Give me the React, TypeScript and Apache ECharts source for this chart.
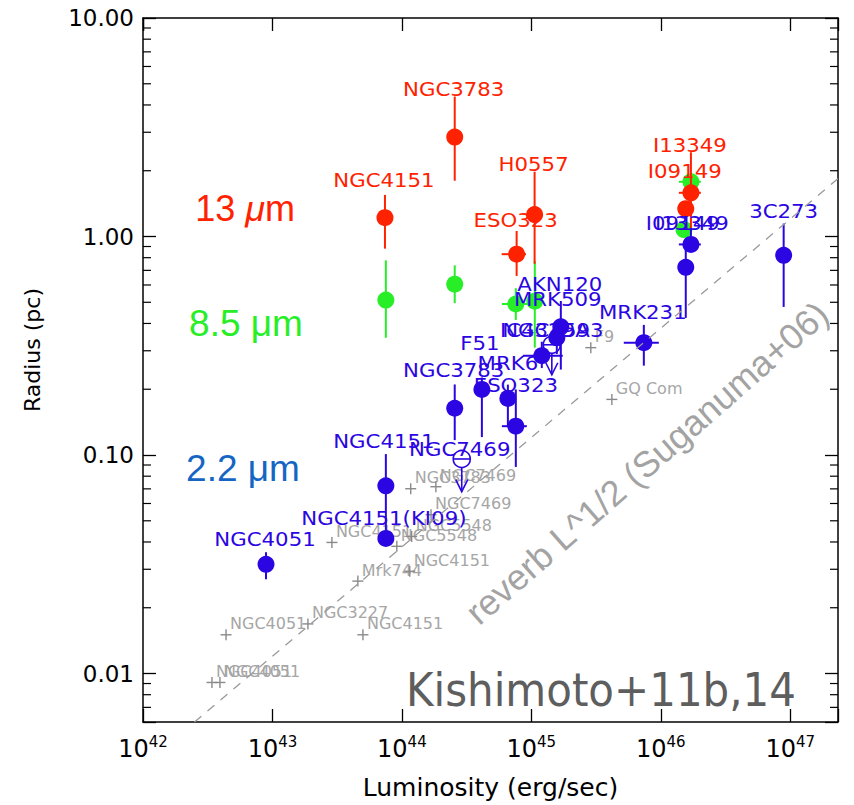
import React, { useEffect, useRef } from 'react';
import * as echarts from 'echarts';

// ---------- axis ranges ----------
const X_MIN = 1e42;
const X_MAX = 2.34e47;
const Y_MIN = 0.006;
const Y_MAX = 10;
const minorTickValues = [
  0.007, 0.008, 0.009,
  0.02, 0.03, 0.04, 0.05, 0.06, 0.07, 0.08, 0.09,
  0.2, 0.3, 0.4, 0.5, 0.6, 0.7, 0.8, 0.9,
  2, 3, 4, 5, 6, 7, 8, 9,
];

// ---------- 13 um (red) ----------
const redNames = ['NGC4151', 'NGC3783', 'H0557', 'ESO323', 'I13349', 'I09149'];
const redL = [7.4e43, 2.56e44, 1.06e45, 7.7e44, 1.71e46, 1.56e46];
const redR = [1.22, 2.85, 1.26, 0.83, 1.585, 1.34];
const redRlo = [0.88, 1.8, 0.75, 0.66, 1.09, 0];
const redRhi = [1.55, 4.37, 1.98, 1.06, 2.43, 0];
const redLlo = [0, 0, 0, 5.9e44, 1.38e46, 0];
const redLhi = [0, 0, 0, 9.1e44, 2.04e46, 0];
const redLabelOffsets = [[-1, -37], [-1, -48], [-1, -50], [-1, -34], [-1, -47], [-1, -37]];

// ---------- 8.5 um (green) ----------
const greenL = [7.52e43, 2.56e44, 7.59e44, 1.064e45, 1.71e46, 1.51e46];
const greenR = [0.512, 0.605, 0.491, 0.506, 1.78, 1.076];
const greenRlo = [0.344, 0.496, 0.415, 0.31, 0, 0];
const greenRhi = [0.778, 0.738, 0.58, 0.77, 0, 0];
const greenLlo = [0, 0, 5.92e44, 0, 1.38e46, 0];
const greenLhi = [0, 0, 9.72e44, 0, 2.04e46, 0];

// ---------- 2.2 um (blue) ----------
const blueNames = ['NGC4051', 'NGC4151', 'NGC4151(KI09)', 'NGC3783', 'F51', 'MRK6', 'ESO323',
  'IC4329A', 'MRK509', 'AKN120', 'MRK231', 'I09149', 'I13349', '3C273'];
const blueL = [8.92e42, 7.52e43, 7.52e43, 2.56e44, 4.15e44, 6.59e44, 7.59e44,
  1.205e45, 1.574e45, 1.69e45, 7.4e45, 1.56e46, 1.71e46, 8.9e46];
const blueR = [0.0316, 0.0723, 0.0415, 0.1637, 0.1995, 0.1816, 0.1355,
  0.285, 0.344, 0.386, 0.3265, 0.723, 0.92, 0.82];
const blueRlo = [0.027, 0.045, 0, 0.117, 0.1208, 0.134, 0.0882,
  0.25, 0.29, 0.246, 0.2565, 0.424, 0, 0.476];
const blueRhi = [0.0359, 0.101, 0, 0.2104, 0.2264, 0.21, 0.1995,
  0.33, 0.4, 0.507, 0.394, 0.97, 1.09, 1.146];
const blueLlo = [0, 0, 0, 0, 0, 0, 5.92e44, 8.59e44, 0, 0, 5.18e45, 0, 1.38e46, 0];
const blueLhi = [0, 0, 0, 0, 0, 0, 9.23e44, 1.75e45, 0, 0, 9.66e45, 0, 2.04e46, 0];
const blueLabelOffsets = [[-1, -25], [-2, -44], [-2, -20], [-1, -38], [-2, -46], [0, -35], [0, -41],
  [3, -25], [1, -38], [-1, -42], [-1, -30], [-3, -44], [1, -21], [0, -44]];

// ---------- 2.2 um upper limits ----------
const limitNames = ['NGC7469', 'NGC4593'];
const limitL = [2.9e44, 1.44e45];
const limitR = [0.0959, 0.3195];
const limitRend = [0.068, 0.233];
const limitLabelOffsets = [[-2, -10], [1, -14]];

// ---------- reverberation radii (gray) ----------
const grayNames = ['NGC4051', 'NGC4051', 'NGC4051', 'NGC3227', 'NGC4151', 'Mrk744', 'NGC4151', 'NGC4151',
  'NGC5548', 'NGC5548', 'NGC3783', 'NGC7469', 'NGC7469', 'F9', 'GQ Com'];
const grayL = [3.41e42, 3.93e42, 4.38e42, 1.88e43, 5.0e43, 4.57e43, 1.15e44, 2.88e43,
  9.14e43, 1.19e44, 1.17e44, 1.83e44, 1.68e44, 2.88e45, 4.19e45];
const grayR = [0.0091, 0.0091, 0.01504, 0.01687, 0.01504, 0.02648, 0.02938, 0.0398,
  0.0382, 0.0424, 0.0701, 0.0716, 0.0533, 0.31, 0.1797];

// ---------- reverberation L^1/2 relation ----------
const reverbL = [2.5e42, 2.34e47];
const reverbR = [0.006, 1.84];

const RED = '#ff2200';
const GREEN = '#28ee28';
const BLUE = '#2c06e2';
const GRAY_MARK = '#8a8a8a';
const GRAY_TEXT = '#a6a6a6';
const FONT = '"DejaVu Sans", sans-serif';

function rows(L: number[], R: number[], Rlo: number[], Rhi: number[], Llo: number[], Lhi: number[]) {
  return L.map((l, i) => [l, R[i], Rlo[i], Rhi[i], Llo[i], Lhi[i]]);
}

function pointSeries(data: number[][], color: string, names: string[] | null, offsets: number[][] | null) {
  return {
    type: 'custom',
    coordinateSystem: 'cartesian2d',
    encode: { x: 0, y: 1 },
    clip: false,
    silent: true,
    data,
    renderItem: (params: any, api: any) => {
      const L = api.value(0), R = api.value(1);
      const Rlo = api.value(2), Rhi = api.value(3), Llo = api.value(4), Lhi = api.value(5);
      const p = api.coord([L, R]);
      const ls = { stroke: color, lineWidth: 2 };
      const ch: any[] = [];
      if (Rhi > 0) {
        const a = api.coord([L, Rhi]);
        ch.push({ type: 'line', shape: { x1: p[0], y1: p[1], x2: p[0], y2: a[1] }, style: ls });
      }
      if (Rlo > 0) {
        const b = api.coord([L, Rlo]);
        ch.push({ type: 'line', shape: { x1: p[0], y1: p[1], x2: p[0], y2: b[1] }, style: ls });
      }
      if (Llo > 0 && Lhi > 0) {
        const a = api.coord([Llo, R]);
        const b = api.coord([Lhi, R]);
        ch.push({ type: 'line', shape: { x1: a[0], y1: p[1], x2: b[0], y2: p[1] }, style: ls });
      }
      ch.push({ type: 'circle', shape: { cx: p[0], cy: p[1], r: 8.5 }, style: { fill: color } });
      if (names && offsets) {
        const i = params.dataIndex;
        ch.push({
          type: 'text', x: p[0] + offsets[i][0], y: p[1] + offsets[i][1], scaleX: 1.12,
          style: { text: names[i], x: 0, y: 0, align: 'center', verticalAlign: 'middle', fill: color, font: '19px ' + FONT },
        });
      }
      return { type: 'group', children: ch };
    },
  };
}

export default function App() {
  const ref = useRef<HTMLDivElement>(null);
  useEffect(() => {
    const chart = echarts.init(ref.current!, null, { renderer: 'svg' });

    const axisLineStyle = { color: '#000', width: 1.5 };
    const tickStyle = { color: '#000', width: 1.3 };

    const option: any = {
      animation: false,
      backgroundColor: '#fff',
      grid: { left: 143, top: 18, width: 695, height: 709, containLabel: false },
      xAxis: [
        {
          type: 'log', logBase: 10, min: X_MIN, max: X_MAX,
          axisLine: { lineStyle: axisLineStyle },
          axisTick: { inside: true, length: 13, lineStyle: tickStyle },
          splitLine: { show: false },
          axisLabel: {
            margin: 12, color: '#000', fontFamily: FONT, fontSize: 24, lineHeight: 30,
            formatter: (v: number) => {
              const e = Math.log10(v);
              const n = Math.round(e);
              if (Math.abs(e - n) > 1e-6) return '';
              return '10{sup|' + n + '}';
            },
            rich: { sup: { fontSize: 15, lineHeight: 15, verticalAlign: 'top', color: '#000', fontFamily: FONT } },
          },
          name: 'Luminosity (erg/sec)', nameLocation: 'middle', nameGap: 53,
          nameTextStyle: { fontSize: 25, color: '#000', fontFamily: FONT },
        },
        {
          type: 'log', logBase: 10, min: X_MIN, max: X_MAX, position: 'top',
          axisLine: { lineStyle: axisLineStyle },
          axisTick: { inside: true, length: 13, lineStyle: tickStyle },
          splitLine: { show: false }, axisLabel: { show: false },
        },
      ],
      yAxis: [
        {
          type: 'log', logBase: 10, min: Y_MIN, max: Y_MAX,
          axisLine: { lineStyle: axisLineStyle },
          axisTick: { inside: true, length: 13, lineStyle: tickStyle },
          splitLine: { show: false },
          axisLabel: {
            margin: 9, color: '#000', fontFamily: FONT, fontSize: 23,
            formatter: (v: number) => {
              const e = Math.log10(v);
              const n = Math.round(e);
              if (Math.abs(e - n) > 1e-6) return '';
              return Math.pow(10, n).toFixed(2);
            },
          },
          name: 'Radius (pc)', nameLocation: 'middle', nameGap: 100,
          nameTextStyle: { fontSize: 22, color: '#000', fontFamily: FONT, padding: [0, 0, 0, 40] },
        },
        {
          type: 'log', logBase: 10, min: Y_MIN, max: Y_MAX, position: 'right',
          axisLine: { lineStyle: axisLineStyle },
          axisTick: { inside: true, length: 13, lineStyle: tickStyle },
          splitLine: { show: false }, axisLabel: { show: false },
        },
      ],
      graphic: [
        { type: 'text', x: 245, y: 208, style: { text: '13 {i|μ}m', align: 'center', verticalAlign: 'middle', fill: RED, font: '36px "Liberation Sans", sans-serif', rich: { i: { fontStyle: 'italic', fontSize: 36, fontFamily: '"Liberation Sans", sans-serif', fill: RED } } } },
        { type: 'text', x: 246, y: 323, style: { text: '8.5 μm', align: 'center', verticalAlign: 'middle', fill: GREEN, font: '37px "Liberation Sans", sans-serif' } },
        { type: 'text', x: 243, y: 468, style: { text: '2.2 μm', align: 'center', verticalAlign: 'middle', fill: '#1566c4', font: '37px "Liberation Sans", sans-serif' } },
        { type: 'text', x: 647, y: 463, rotation: 0.72, style: { text: 'reverb L^1/2 (Suganuma+06)', align: 'center', verticalAlign: 'middle', fill: '#a3a3a3', font: '36px "Liberation Sans", sans-serif' } },
        { type: 'text', x: 601, y: 690, scaleY: 1.1, style: { text: 'Kishimoto+11b,14', align: 'center', verticalAlign: 'middle', fill: '#5e5e5e', font: '42px ' + FONT } },
      ],
      series: [
        {
          type: 'line', silent: true, symbol: 'none', xAxisIndex: 0, yAxisIndex: 0,
          data: reverbL.map((l, i) => [l, reverbR[i]]),
          lineStyle: { color: '#9a9a9a', width: 1.3, type: [9, 8] },
        },
        {
          type: 'custom', coordinateSystem: 'cartesian2d', silent: true, clip: false,
          encode: { x: 0, y: 1 },
          data: minorTickValues.map((v) => [X_MIN, v]),
          renderItem: (params: any, api: any) => {
            const cs = params.coordSys;
            const y = api.coord([X_MIN, api.value(1)])[1];
            const st = { stroke: '#000', lineWidth: 1.2 };
            return {
              type: 'group', children: [
                { type: 'line', shape: { x1: cs.x, y1: y, x2: cs.x + 8, y2: y }, style: st },
                { type: 'line', shape: { x1: cs.x + cs.width, y1: y, x2: cs.x + cs.width - 8, y2: y }, style: st },
              ],
            };
          },
        },
        {
          type: 'custom', coordinateSystem: 'cartesian2d', silent: true, clip: false,
          encode: { x: 0, y: 1 },
          data: grayL.map((l, i) => [l, grayR[i]]),
          renderItem: (params: any, api: any) => {
            const p = api.coord([api.value(0), api.value(1)]);
            const st = { stroke: GRAY_MARK, lineWidth: 1.4 };
            return {
              type: 'group', children: [
                { type: 'line', shape: { x1: p[0] - 5.5, y1: p[1], x2: p[0] + 5.5, y2: p[1] }, style: st },
                { type: 'line', shape: { x1: p[0], y1: p[1] - 5.5, x2: p[0], y2: p[1] + 5.5 }, style: st },
                { type: 'text', x: p[0] + 4, y: p[1] - 11, style: { text: grayNames[params.dataIndex], x: 0, y: 0, align: 'left', verticalAlign: 'middle', fill: GRAY_TEXT, font: '16px ' + FONT } },
              ],
            };
          },
        },
        pointSeries(rows(greenL, greenR, greenRlo, greenRhi, greenLlo, greenLhi), GREEN, null, null),
        pointSeries(rows(redL, redR, redRlo, redRhi, redLlo, redLhi), RED, redNames, redLabelOffsets),
        pointSeries(rows(blueL, blueR, blueRlo, blueRhi, blueLlo, blueLhi), BLUE, blueNames, blueLabelOffsets),
        {
          type: 'custom', coordinateSystem: 'cartesian2d', silent: true, clip: false,
          encode: { x: 0, y: 1 },
          data: limitL.map((l, i) => [l, limitR[i], limitRend[i]]),
          renderItem: (params: any, api: any) => {
            const L = api.value(0);
            const p = api.coord([L, api.value(1)]);
            const e = api.coord([L, api.value(2)]);
            const st = { stroke: BLUE, lineWidth: 1.6, fill: 'none' };
            const i = params.dataIndex;
            const r = 8.5;
            return {
              type: 'group', children: [
                { type: 'circle', shape: { cx: p[0], cy: p[1], r }, style: { stroke: BLUE, lineWidth: 1.6, fill: 'none' } },
                { type: 'line', shape: { x1: p[0] - r, y1: p[1], x2: p[0] + r, y2: p[1] }, style: st },
                { type: 'line', shape: { x1: p[0], y1: p[1] + r, x2: p[0], y2: e[1] }, style: st },
                { type: 'polyline', shape: { points: [[p[0] - 6, e[1] - 12], [p[0], e[1]], [p[0] + 6, e[1] - 12]] }, style: st },
                {
                  type: 'text', x: p[0] + limitLabelOffsets[i][0], y: p[1] + limitLabelOffsets[i][1], scaleX: 1.12,
                  style: { text: limitNames[i], x: 0, y: 0, align: 'center', verticalAlign: 'middle', fill: BLUE, font: '19px ' + FONT },
                },
              ],
            };
          },
        },
      ],
    };

    chart.setOption(option);
    return () => chart.dispose();
  }, []);
  return <div ref={ref} style={{ position: 'absolute', left: 0, top: 0, width: 854, height: 805 }} />;
}
